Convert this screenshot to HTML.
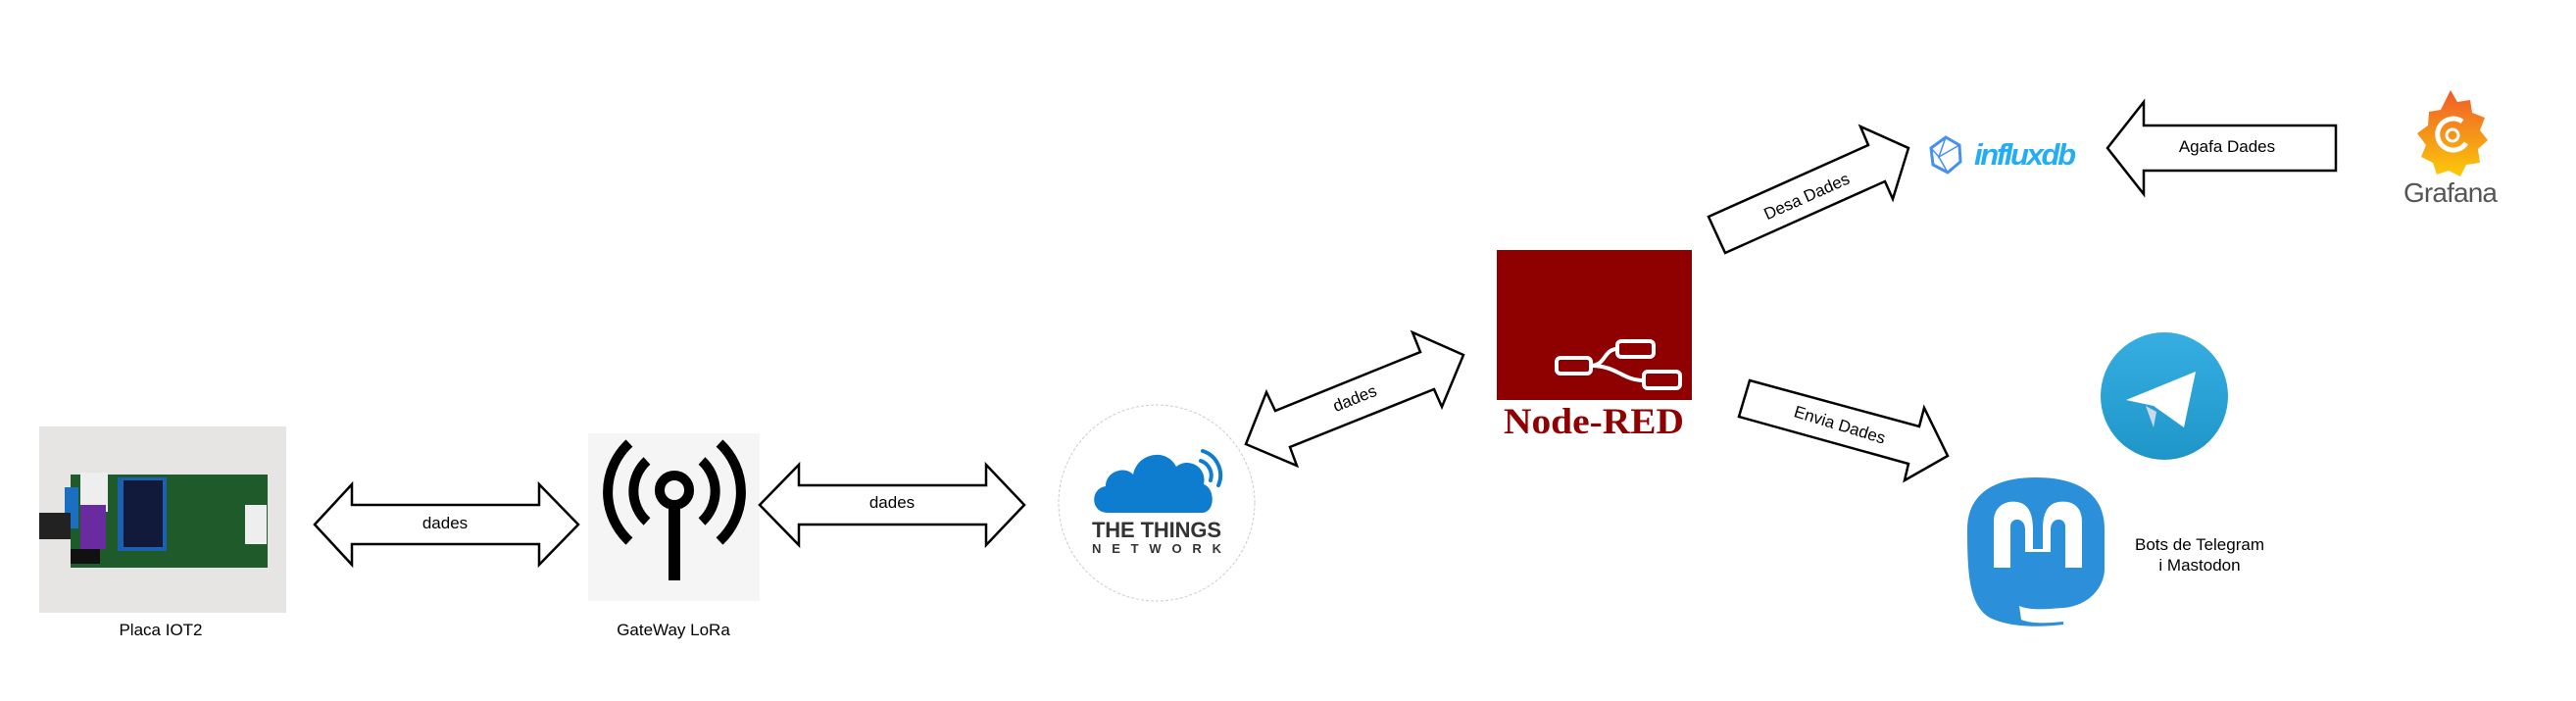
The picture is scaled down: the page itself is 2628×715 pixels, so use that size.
<!DOCTYPE html>
<html><head><meta charset="utf-8"><style>
html,body{margin:0;padding:0;background:#fff;}
svg{display:block;}
text{font-family:"Liberation Sans",sans-serif;}
</style></head><body>
<svg width="2628" height="715" viewBox="0 0 2628 715" xmlns="http://www.w3.org/2000/svg">
<defs>
<linearGradient id="tg" x1="0" y1="0" x2="0" y2="1"><stop offset="0" stop-color="#37aee2"/><stop offset="1" stop-color="#1e96c8"/></linearGradient>
<linearGradient id="gf" x1="0" y1="0" x2="0" y2="1"><stop offset="0" stop-color="#f05a28"/><stop offset="1" stop-color="#fbca0a"/></linearGradient>
</defs>
<rect width="2628" height="715" fill="#fff"/>

<!-- Placa photo -->
<rect x="40" y="435" width="252" height="190" fill="#e6e5e3"/>
<rect x="72" y="484" width="201" height="95" fill="#1f5a2a"/>
<rect x="82" y="482" width="28" height="40" fill="#eee"/>
<rect x="66" y="497" width="14" height="42" fill="#1a6fc1"/>
<rect x="40" y="523" width="32" height="27" fill="#222"/>
<rect x="82" y="515" width="26" height="45" fill="#6a2aa0"/>
<rect x="120" y="487" width="50" height="75" fill="#1d5fb0"/>
<rect x="126" y="490" width="40" height="68" fill="#111a3a"/>
<rect x="250" y="515" width="22" height="40" fill="#eee"/>
<rect x="72" y="560" width="30" height="15" fill="#111"/>

<!-- Arrow 1 -->
<polygon points="321,535 359,494 359,515 550,515 550,494 590,535 550,576 550,555 359,555 359,576" fill="#fff" stroke="#000" stroke-width="2.5"/>
<text x="454" y="539" font-size="17" text-anchor="middle">dades</text>
<text x="164" y="648" font-size="17" text-anchor="middle">Placa IOT2</text>

<!-- Gateway -->
<rect x="600" y="442" width="175" height="171" fill="#f5f5f5"/>
<g fill="none" stroke="#000" stroke-width="10">
<circle cx="688" cy="500" r="15"/>
<path d="M660,470 A42 42 0 0 0 660,532"/>
<path d="M716,470 A42 42 0 0 1 716,532"/>
<path d="M642,452 A68 68 0 0 0 642,552"/>
<path d="M734,452 A68 68 0 0 1 734,552"/>
</g>
<rect x="682" y="512" width="12" height="80" fill="#000"/>
<text x="687" y="648" font-size="17" text-anchor="middle">GateWay LoRa</text>

<!-- Arrow 2 -->
<polygon points="775,515 815,474 815,495 1006,495 1006,474 1045,515 1006,556 1006,535 815,535 815,556" fill="#fff" stroke="#000" stroke-width="2.5"/>
<text x="910" y="518" font-size="17" text-anchor="middle">dades</text>

<!-- TTN -->
<circle cx="1180" cy="513" r="100" fill="#fff" stroke="#ccc" stroke-width="1" stroke-dasharray="3,2"/>
<path d="M1130,523 C1112,523 1112,498 1128,496 C1128,480 1148,475 1156,484 C1160,462 1190,456 1200,476 C1212,466 1232,476 1228,494 C1240,498 1240,523 1226,523 Z" fill="#0e7dd0"/>
<path d="M1225,470 A16 16 0 0 1 1235,490" fill="none" stroke="#0e7dd0" stroke-width="4" stroke-linecap="round"/>
<path d="M1227,460 A26 26 0 0 1 1243,495" fill="none" stroke="#0e7dd0" stroke-width="4" stroke-linecap="round"/>
<text x="1180" y="548" font-size="22" font-weight="bold" fill="#333" text-anchor="middle" textLength="132">THE THINGS</text>
<text x="1180" y="564" font-size="13" font-weight="bold" fill="#333" text-anchor="middle" textLength="132" lengthAdjust="spacing">NETWORK</text>

<!-- Arrow 3 -->
<polygon points="1271,453 1292,400 1301,419 1449,359 1441,339 1493,362 1471,415 1463,397 1316,456 1323,475" fill="#fff" stroke="#000" stroke-width="2.5"/>
<text x="1382" y="412" font-size="17" text-anchor="middle" transform="rotate(-22 1382 406)">dades</text>

<!-- Node-RED -->
<rect x="1527" y="255" width="199" height="153" fill="#8f0000"/>
<g fill="none" stroke="#fff" stroke-width="4">
<rect x="1588" y="365" width="35" height="16" rx="4"/>
<rect x="1650" y="348" width="37" height="16" rx="4"/>
<rect x="1677" y="379" width="37" height="17" rx="4"/>
<path d="M1623,373 C1638,373 1636,356 1650,356"/>
<path d="M1623,373 C1650,373 1655,388 1677,388"/>
</g>
<text x="1626" y="442" font-size="37" font-weight="bold" fill="#8f0000" text-anchor="middle" style="font-family:'Liberation Serif',serif" textLength="184" lengthAdjust="spacingAndGlyphs">Node-RED</text>

<!-- Desa Dades -->
<polygon points="1743,221 1906,148 1898,129 1947,151 1931,203 1923,185 1760,258" fill="#fff" stroke="#000" stroke-width="2.5"/>
<text x="1843" y="206" font-size="17" text-anchor="middle" transform="rotate(-24 1843 200)">Desa Dades</text>

<!-- Envia Dades -->
<polygon points="1785,388 1958,435 1963,416 1987,465 1943,490 1947,473 1774,425" fill="#fff" stroke="#000" stroke-width="2.5"/>
<text x="1877" y="439" font-size="17" text-anchor="middle" transform="rotate(17 1877 433)">Envia Dades</text>

<!-- influxdb -->
<polygon points="1985,140 1999,148 2000,165 1987,176 1972,168 1970,151" fill="none" stroke="#4591ed" stroke-width="3"/>
<path d="M1985,140 L1978,160 L1999,148 M1978,160 L1987,176 M1978,160 L1970,151" fill="none" stroke="#4591ed" stroke-width="1.5"/>
<text x="2014" y="168" font-size="31" font-weight="bold" font-style="italic" fill="#22adf6" textLength="104">influxdb</text>

<!-- Agafa Dades -->
<polygon points="2150,151 2187,104 2187,128 2383,128 2383,174 2187,174 2187,198" fill="#fff" stroke="#000" stroke-width="2.5"/>
<text x="2272" y="155" font-size="17" text-anchor="middle">Agafa Dades</text>

<!-- Grafana -->
<path d="M2500,92 L2507,104 L2520,102 L2522,115 L2535,120 L2530,133 L2538,143 L2528,152 L2530,166 L2516,168 L2510,180 L2498,174 L2486,178 L2482,166 L2470,160 L2475,148 L2466,136 L2477,128 L2478,114 L2490,112 Z" fill="url(#gf)"/>
<path d="M2516,146 A16 16 0 1 1 2512,124" fill="none" stroke="#fff" stroke-width="5"/>
<circle cx="2502" cy="138" r="6" fill="none" stroke="#fff" stroke-width="3"/>
<text x="2500" y="206" font-size="28" fill="#555" text-anchor="middle" textLength="96">Grafana</text>

<!-- Telegram -->
<circle cx="2208" cy="404" r="65" fill="url(#tg)"/>
<path d="M2169,408 L2240,379 L2228,436 L2197,414 Z" fill="#fff"/>
<path d="M2189,414 L2197,436 L2200,420 Z" fill="#c8daea"/>

<!-- Mastodon -->
<path d="M2077,487 C2115,487 2147,500 2147,540 L2147,580 C2147,600 2130,618 2105,620 C2080,622 2070,622 2060,618 L2062,632 C2072,636 2085,636 2105,634 L2105,637 C2080,640 2050,640 2030,630 C2010,618 2007,590 2007,540 C2007,500 2040,487 2077,487 Z" fill="#2b90d9"/>
<path d="M2034,579 L2034,532 C2034,515 2048,510 2058,512 C2070,514 2074,525 2074,540 L2074,560 L2084,560 L2084,540 C2084,525 2088,514 2100,512 C2112,510 2124,515 2124,532 L2124,579 L2107,579 L2107,537 C2107,527 2092,527 2092,540 L2092,563 L2066,563 L2066,540 C2066,527 2051,527 2051,537 L2051,579 Z" fill="#fff"/>
<text x="2244" y="561" font-size="17" text-anchor="middle">Bots de Telegram</text>
<text x="2244" y="582" font-size="17" text-anchor="middle">i Mastodon</text>
</svg>
</body></html>
